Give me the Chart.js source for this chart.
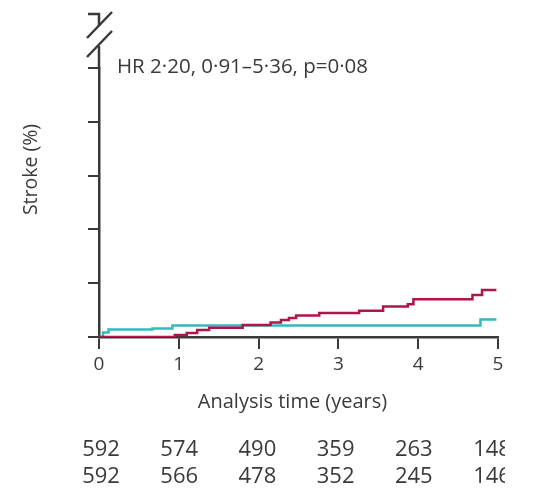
<!DOCTYPE html>
<html>
<head>
<meta charset="utf-8">
<script src="https://cdn.jsdelivr.net/npm/chart.js@4"></script>
<style>
  html, body { margin: 0; padding: 0; background: #ffffff; }
  canvas { display: block; }
</style>
</head>
<body>
<canvas id="km" width="535" height="493"></canvas>
<script>
// Cumulative stroke incidence (%) at each event time (years)
const groupATimes = [0, 0.95, 1.10, 1.23, 1.38, 1.80, 2.15, 2.28, 2.38, 2.47, 2.76, 3.26, 3.56, 3.87, 3.94, 4.68, 4.80, 4.98];
const groupAPct   = [0, 0.07, 0.15, 0.26, 0.34, 0.45, 0.54, 0.63, 0.71, 0.80, 0.89, 0.98, 1.13, 1.22, 1.40, 1.56, 1.75, 1.75];
const groupBTimes = [0, 0.05, 0.12, 0.67, 0.92, 4.78, 4.98];
const groupBPct   = [0, 0.17, 0.28, 0.32, 0.43, 0.65, 0.65];

// Numbers at risk at each whole year
const yearTicks = [0, 1, 2, 3, 4, 5];
const atRiskA = [592, 574, 490, 359, 263, 148];
const atRiskB = [592, 566, 478, 352, 245, 146];

const hrText = 'HR 2\u00B720, 0\u00B791\u20135\u00B736, p=0\u00B708';
const yTitle = 'Stroke (%)';
const xTitle = 'Analysis time (years)';

const FONT = '"Open Sans", "DejaVu Sans", sans-serif';
const INK = '#3a3a3a';
const RED = '#b0144a';
const TEAL = '#34b9bd';

const toPoints = (ts, vs) => ts.map((t, i) => ({ x: t, y: vs[i] }));

const decorations = {
  id: 'decorations',
  afterDraw(chart) {
    const { ctx, chartArea } = chart;
    const xs = chart.scales.x;
    const ax = chartArea.left;
    const top = chartArea.top;

    ctx.save();
    ctx.strokeStyle = INK;
    ctx.lineWidth = 2.5;
    ctx.lineCap = 'butt';

    // axis continues above the last tick up to the break
    ctx.beginPath();
    ctx.moveTo(ax, top);
    ctx.lineTo(ax, top - 22);
    ctx.stroke();

    // axis break marks
    ctx.beginPath();
    ctx.moveTo(ax - 12, top - 11);
    ctx.lineTo(ax + 13, top - 37);
    ctx.moveTo(ax - 12, top - 30);
    ctx.lineTo(ax + 13, top - 56);
    ctx.stroke();

    // short axis stub above the break with its top tick
    ctx.beginPath();
    ctx.moveTo(ax, top - 42);
    ctx.lineTo(ax, top - 54);
    ctx.lineTo(ax - 11, top - 54);
    ctx.stroke();

    ctx.fillStyle = INK;

    // annotation
    ctx.font = '20.5px ' + FONT;
    ctx.textAlign = 'left';
    ctx.textBaseline = 'alphabetic';
    ctx.fillText(hrText, ax + 18, top + 5);

    // y axis title
    ctx.save();
    ctx.translate(31, (chartArea.top + chartArea.bottom) / 2 - 33);
    ctx.rotate(-Math.PI / 2);
    ctx.font = '19.5px ' + FONT;
    ctx.textAlign = 'center';
    ctx.textBaseline = 'middle';
    ctx.fillText(yTitle, 0, 0);
    ctx.restore();

    // x axis title
    ctx.font = '20px ' + FONT;
    ctx.textAlign = 'center';
    ctx.textBaseline = 'middle';
    ctx.fillText(xTitle, (chartArea.left + chartArea.right) / 2 - 6, chartArea.bottom + 65);

    // numbers at risk, columns slightly tighter than the year ticks
    ctx.save();
    ctx.beginPath();
    ctx.rect(0, chartArea.bottom + 80, chartArea.right + 7, 200);
    ctx.clip();
    ctx.font = '22px ' + FONT;
    const x0 = xs.getPixelForValue(0);
    yearTicks.forEach((yr, i) => {
      const px = x0 + 2 + (xs.getPixelForValue(yr) - x0) * 0.98;
      ctx.fillText(String(atRiskA[i]), px, chartArea.bottom + 113);
      ctx.fillText(String(atRiskB[i]), px, chartArea.bottom + 140);
    });
    ctx.restore();

    ctx.restore();
  }
};

new Chart(document.getElementById('km'), {
  type: 'line',
  data: {
    datasets: [
      {
        label: 'A',
        data: toPoints(groupATimes, groupAPct),
        borderColor: RED,
        borderWidth: 2.5,
        stepped: true,
        pointRadius: 0,
        fill: false
      },
      {
        label: 'B',
        data: toPoints(groupBTimes, groupBPct),
        borderColor: TEAL,
        borderWidth: 2.5,
        stepped: true,
        pointRadius: 0,
        fill: false
      }
    ]
  },
  options: {
    responsive: false,
    animation: false,
    devicePixelRatio: 1,
    layout: { padding: { left: 0, right: 37, top: 68, bottom: 0 } },
    plugins: {
      legend: { display: false },
      tooltip: { enabled: false }
    },
    scales: {
      x: {
        type: 'linear',
        min: 0,
        max: 5,
        afterBuildTicks(scale) { scale.ticks = yearTicks.map(v => ({ value: v })); },
        afterFit(scale) { scale.height = 493 - 337; },
        border: { color: INK, width: 2.5 },
        grid: { drawOnChartArea: false, drawTicks: true, tickLength: 12, color: INK, lineWidth: 2 },
        ticks: {
          color: INK,
          padding: 4,
          font: { family: FONT, size: 19 },
          maxRotation: 0,
          callback: v => String(v)
        }
      },
      y: {
        type: 'linear',
        min: 0,
        max: 10,
        afterBuildTicks(scale) { scale.ticks = [0, 2, 4, 6, 8, 10].map(v => ({ value: v })); },
        afterFit(scale) { scale.width = 99; },
        border: { color: INK, width: 2.5 },
        grid: { drawOnChartArea: false, drawTicks: true, tickLength: 11, color: INK, lineWidth: 2 },
        ticks: { display: false }
      }
    }
  },
  plugins: [decorations]
});
</script>
</body>
</html>
